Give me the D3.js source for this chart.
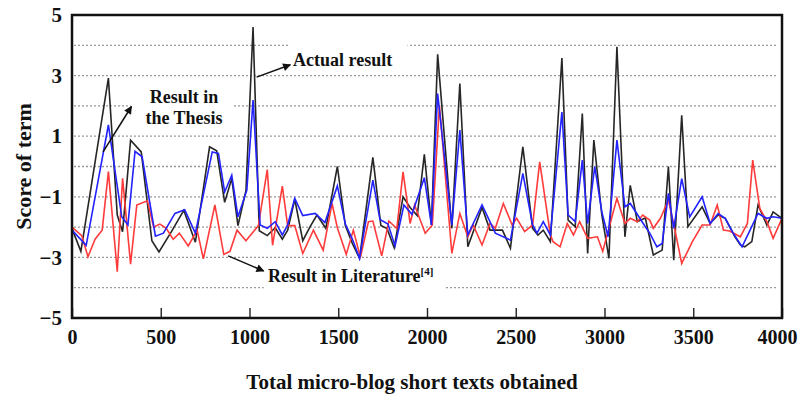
<!DOCTYPE html>
<html>
<head>
<meta charset="utf-8">
<script src="https://cdn.jsdelivr.net/npm/d3@7"></script>
<style>
  body { margin: 0; background: #fff; }
  text { font-family: "Liberation Serif", "Times New Roman", serif; font-weight: bold; fill: #111; }
</style>
</head>
<body>
<div class="graph"></div>
<script>
// values (x = micro-blog texts, y = score of term)
const actualX = [0,50,205,255,285,330,390,450,490,560,630,695,775,815,860,900,935,980,1020,1055,1100,1145,1185,1215,1255,1300,1340,1380,1430,1495,1540,1580,1620,1695,1740,1775,1815,1865,1905,1945,1985,2025,2060,2140,2185,2230,2310,2355,2425,2470,2540,2595,2625,2655,2695,2760,2795,2835,2875,2905,2940,2985,3025,3070,3115,3145,3185,3230,3275,3325,3360,3390,3435,3470,3550,3595,3640,3680,3735,3765,3790,3830,3865,3915,3950,4000];
const actualY = [-2.05,-2.8,2.92,-1.6,-2.15,0.87,0.48,-2.45,-2.82,-2.15,-1.45,-2.5,0.65,0.52,-1.18,-0.4,-1.95,-0.8,4.6,-2.12,-2.28,-2.02,-2.4,-2.1,-1.08,-2.45,-2.0,-1.6,-2.04,0.0,-1.95,-2.55,-3.03,0.3,-1.95,-2.05,-2.68,-1.0,-1.35,-1.62,0.4,-1.93,3.7,-2.04,2.74,-2.65,-1.35,-2.1,-2.1,-2.7,0.65,-2.04,-2.26,-2.1,-2.48,3.58,-1.77,-1.99,1.75,-2.87,0.87,-1.6,-3.03,3.95,-2.32,-0.62,-1.82,-1.7,-2.92,-2.76,0.0,-3.09,1.69,-1.99,-1.33,-1.88,-1.6,-1.71,-2.32,-2.59,-2.65,-2.48,-1.27,-1.93,-1.5,-1.71];

const thesisX = [0,80,205,280,315,355,395,470,515,580,635,695,790,825,860,900,935,985,1020,1060,1100,1145,1185,1215,1255,1300,1370,1425,1495,1540,1580,1620,1695,1735,1780,1820,1870,1915,1985,2025,2060,2140,2185,2230,2310,2385,2470,2540,2595,2620,2655,2695,2760,2795,2835,2875,2905,2945,2985,3020,3070,3115,3145,3230,3255,3295,3325,3360,3390,3435,3480,3550,3595,3640,3680,3725,3775,3865,3915,3950,4000];
const thesisY = [-2.1,-2.6,1.37,-1.66,-1.93,0.5,0.32,-2.3,-2.2,-1.55,-1.43,-2.2,0.48,0.43,-0.84,-0.29,-1.66,-0.78,2.19,-1.93,-2.04,-1.82,-2.26,-1.93,-1.05,-1.62,-1.55,-1.85,-0.64,-1.9,-2.4,-3.03,-0.45,-1.75,-1.9,-2.62,-1.27,-1.58,-0.37,-1.93,2.41,-1.93,1.2,-2.26,-1.27,-2.2,-2.43,-0.23,-1.93,-2.2,-1.82,-2.26,1.8,-1.6,-1.82,0.21,-1.88,0.0,-1.5,-2.32,0.87,-1.33,-1.22,-1.99,-2.2,-2.65,-2.54,-0.89,-2.04,-0.4,-1.66,-1.0,-1.88,-1.55,-1.71,-2.2,-2.65,-1.55,-1.71,-1.66,-1.71];

const literatureX = [0,55,90,130,170,205,255,285,330,365,425,460,495,530,570,605,655,705,740,805,855,890,930,980,1050,1100,1130,1185,1215,1255,1300,1360,1415,1465,1495,1545,1585,1625,1670,1695,1745,1785,1830,1865,1905,1930,1990,2030,2070,2140,2185,2230,2260,2310,2355,2385,2430,2480,2505,2550,2595,2635,2695,2710,2750,2790,2825,2860,2905,2960,2990,3070,3115,3145,3185,3215,3255,3275,3315,3360,3395,3435,3495,3550,3595,3635,3670,3705,3765,3805,3835,3875,3915,3950,4000];
const literatureY = [-2.0,-2.28,-2.98,-2.4,-2.1,-0.17,-3.47,-0.39,-3.22,-1.27,-1.13,-2.0,-1.9,-2.03,-2.4,-2.2,-2.62,-2.1,-3.05,-1.27,-2.9,-2.8,-2.1,-2.45,-1.95,-0.1,-2.6,-0.65,-1.95,-1.95,-2.87,-2.1,-2.76,-1.22,-2.02,-2.9,-2.1,-3.0,-1.82,-1.8,-2.95,-1.8,-2.05,-0.18,-1.88,-1.27,-2.2,-1.93,2.02,-2.87,-1.55,-2.32,-1.93,-2.59,-1.88,-2.04,-1.22,-1.93,-1.71,-2.15,-1.93,0.15,-2.26,-2.48,-2.65,-1.88,-2.26,-1.82,-2.37,-2.32,-2.8,-1.05,-1.88,-1.71,-1.82,-1.6,-1.77,-2.04,-1.71,-1.11,-2.04,-3.2,-2.48,-1.93,-1.93,-1.27,-2.1,-2.13,-2.32,-1.88,0.21,-1.38,-1.82,-2.37,-1.71];

const xTicks = [0, 500, 1000, 1500, 2000, 2500, 3000, 3500, 4000];
const yTicks = [5, 3, 1, -1, -3, -5];
const gridValues = [4, 3, 2, 1, 0, -1, -2, -3, -4];

const w = 800;
const h = 394;
const margin = { left: 72, right: 18, top: 15, bottom: 76 };

const svg = d3.select(".graph")
    .append("svg")
    .attr("width", w)
    .attr("height", h);

const xScale = d3.scaleLinear()
    .domain([0, 4000])
    .range([margin.left, w - margin.right]);

const yScale = d3.scaleLinear()
    .domain([-5, 5])
    .range([h - margin.bottom, margin.top]);

// dotted grid
svg.append("g")
    .selectAll("line")
    .data(gridValues)
    .enter()
    .append("line")
    .attr("x1", margin.left + 2)
    .attr("x2", w - margin.right - 4)
    .attr("y1", d => yScale(d))
    .attr("y2", d => yScale(d))
    .style("stroke", "#999")
    .style("stroke-width", 1.3)
    .style("stroke-dasharray", "2,2");

// white boxes behind the notes break the grid like in the figure
const noteBoxes = [
    { x0: 1220, x1: 1890, y0: 4.15, y1: 3.1 },
    { x0: 330, x1: 910, y0: 2.6, y1: 1.25 },
    { x0: 1080, x1: 2100, y0: -3.5, y1: -4.4 }
];
svg.append("g")
    .selectAll("rect")
    .data(noteBoxes)
    .enter()
    .append("rect")
    .attr("x", d => xScale(d.x0))
    .attr("y", d => yScale(d.y0))
    .attr("width", d => xScale(d.x1) - xScale(d.x0))
    .attr("height", d => yScale(d.y1) - yScale(d.y0))
    .attr("fill", "#fff");

const series = [
    { xs: actualX, ys: actualY, color: "#262626" },
    { xs: literatureX, ys: literatureY, color: "#ff3b3b" },
    { xs: thesisX, ys: thesisY, color: "#2323ff" }
];

const line = d3.line()
    .x(d => xScale(d[0]))
    .y(d => yScale(d[1]));

svg.append("g")
    .selectAll("path")
    .data(series)
    .enter()
    .append("path")
    .attr("fill", "none")
    .attr("stroke", d => d.color)
    .attr("stroke-width", 1.6)
    .attr("stroke-linejoin", "miter")
    .attr("d", d => line(d.xs.map((x, i) => [x, d.ys[i]])));

// x axis: ticks point up into the plot
const xAxis = d3.axisBottom(xScale)
    .tickValues(xTicks)
    .tickFormat(d3.format("d"))
    .tickSizeInner(-10)
    .tickSizeOuter(0)
    .tickPadding(12);

const xAxisGroup = svg.append("g")
    .attr("transform", `translate(0,${yScale(-5)})`)
    .call(xAxis);
xAxisGroup.select(".domain").remove();
xAxisGroup.selectAll("line").attr("stroke", "#222").attr("stroke-width", 1.4);
xAxisGroup.selectAll("text")
    .style("font-size", "20px")
    .style("font-family", "'Liberation Serif', serif")
    .style("font-weight", "bold")
    .attr("fill", "#111");
// the last label sits a little left so it stays on the page
xAxisGroup.selectAll("text")
    .filter(d => d === 4000)
    .attr("dx", "-5");

const yAxis = d3.axisLeft(yScale)
    .tickValues(yTicks)
    .tickSize(0)
    .tickPadding(10);

const yAxisGroup = svg.append("g")
    .attr("transform", `translate(${margin.left},0)`)
    .call(yAxis);
yAxisGroup.select(".domain").remove();
yAxisGroup.selectAll("text")
    .style("font-size", "21px")
    .style("font-family", "'Liberation Serif', serif")
    .style("font-weight", "bold")
    .attr("fill", "#111");

// frame
svg.append("rect")
    .attr("x", xScale(0))
    .attr("y", yScale(5))
    .attr("width", xScale(4000) - xScale(0))
    .attr("height", yScale(-5) - yScale(5))
    .attr("fill", "none")
    .attr("stroke", "#111")
    .attr("stroke-width", 2.5);

// axis titles
svg.append("text")
    .text("Total micro-blog short texts obtained")
    .attr("x", 412)
    .attr("y", 389)
    .attr("text-anchor", "middle")
    .attr("font-size", "21px");

svg.append("text")
    .text("Score of term")
    .attr("transform", `translate(31,${yScale(0)}) rotate(-90)`)
    .attr("text-anchor", "middle")
    .attr("font-size", "22px");

// arrows and notes
svg.append("defs")
    .append("marker")
    .attr("id", "head")
    .attr("viewBox", "0 0 10 10")
    .attr("refX", 9)
    .attr("refY", 5)
    .attr("markerWidth", 11)
    .attr("markerHeight", 8)
    .attr("markerUnits", "userSpaceOnUse")
    .attr("orient", "auto")
    .append("path")
    .attr("d", "M0,0 L10,5 L0,10 Z")
    .attr("fill", "#111");

const arrows = [
    { x1: 175, y1: 0.48, x2: 335, y2: 1.98 },
    { x1: 1040, y1: 2.95, x2: 1230, y2: 3.36 },
    { x1: 880, y1: -2.95, x2: 1080, y2: -3.45 }
];
svg.append("g")
    .selectAll("line")
    .data(arrows)
    .enter()
    .append("line")
    .attr("x1", d => xScale(d.x1))
    .attr("y1", d => yScale(d.y1))
    .attr("x2", d => xScale(d.x2))
    .attr("y2", d => yScale(d.y2))
    .attr("stroke", "#111")
    .attr("stroke-width", 1.5)
    .attr("marker-end", "url(#head)");

svg.append("text")
    .text("Actual result")
    .attr("x", xScale(1245))
    .attr("y", yScale(3.32))
    .attr("font-size", "18px");

svg.append("text")
    .text("Result in")
    .attr("x", xScale(631))
    .attr("y", yScale(2.1))
    .attr("text-anchor", "middle")
    .attr("font-size", "18px");

svg.append("text")
    .text("the Thesis")
    .attr("x", xScale(631))
    .attr("y", yScale(1.4))
    .attr("text-anchor", "middle")
    .attr("font-size", "18px");

const lit = svg.append("text")
    .attr("x", xScale(1104))
    .attr("y", yScale(-3.81))
    .attr("font-size", "18px");
lit.append("tspan").text("Result in Literature");
lit.append("tspan")
    .text("[4]")
    .attr("font-size", "11px")
    .attr("dy", "-7");
</script>
</body>
</html>
